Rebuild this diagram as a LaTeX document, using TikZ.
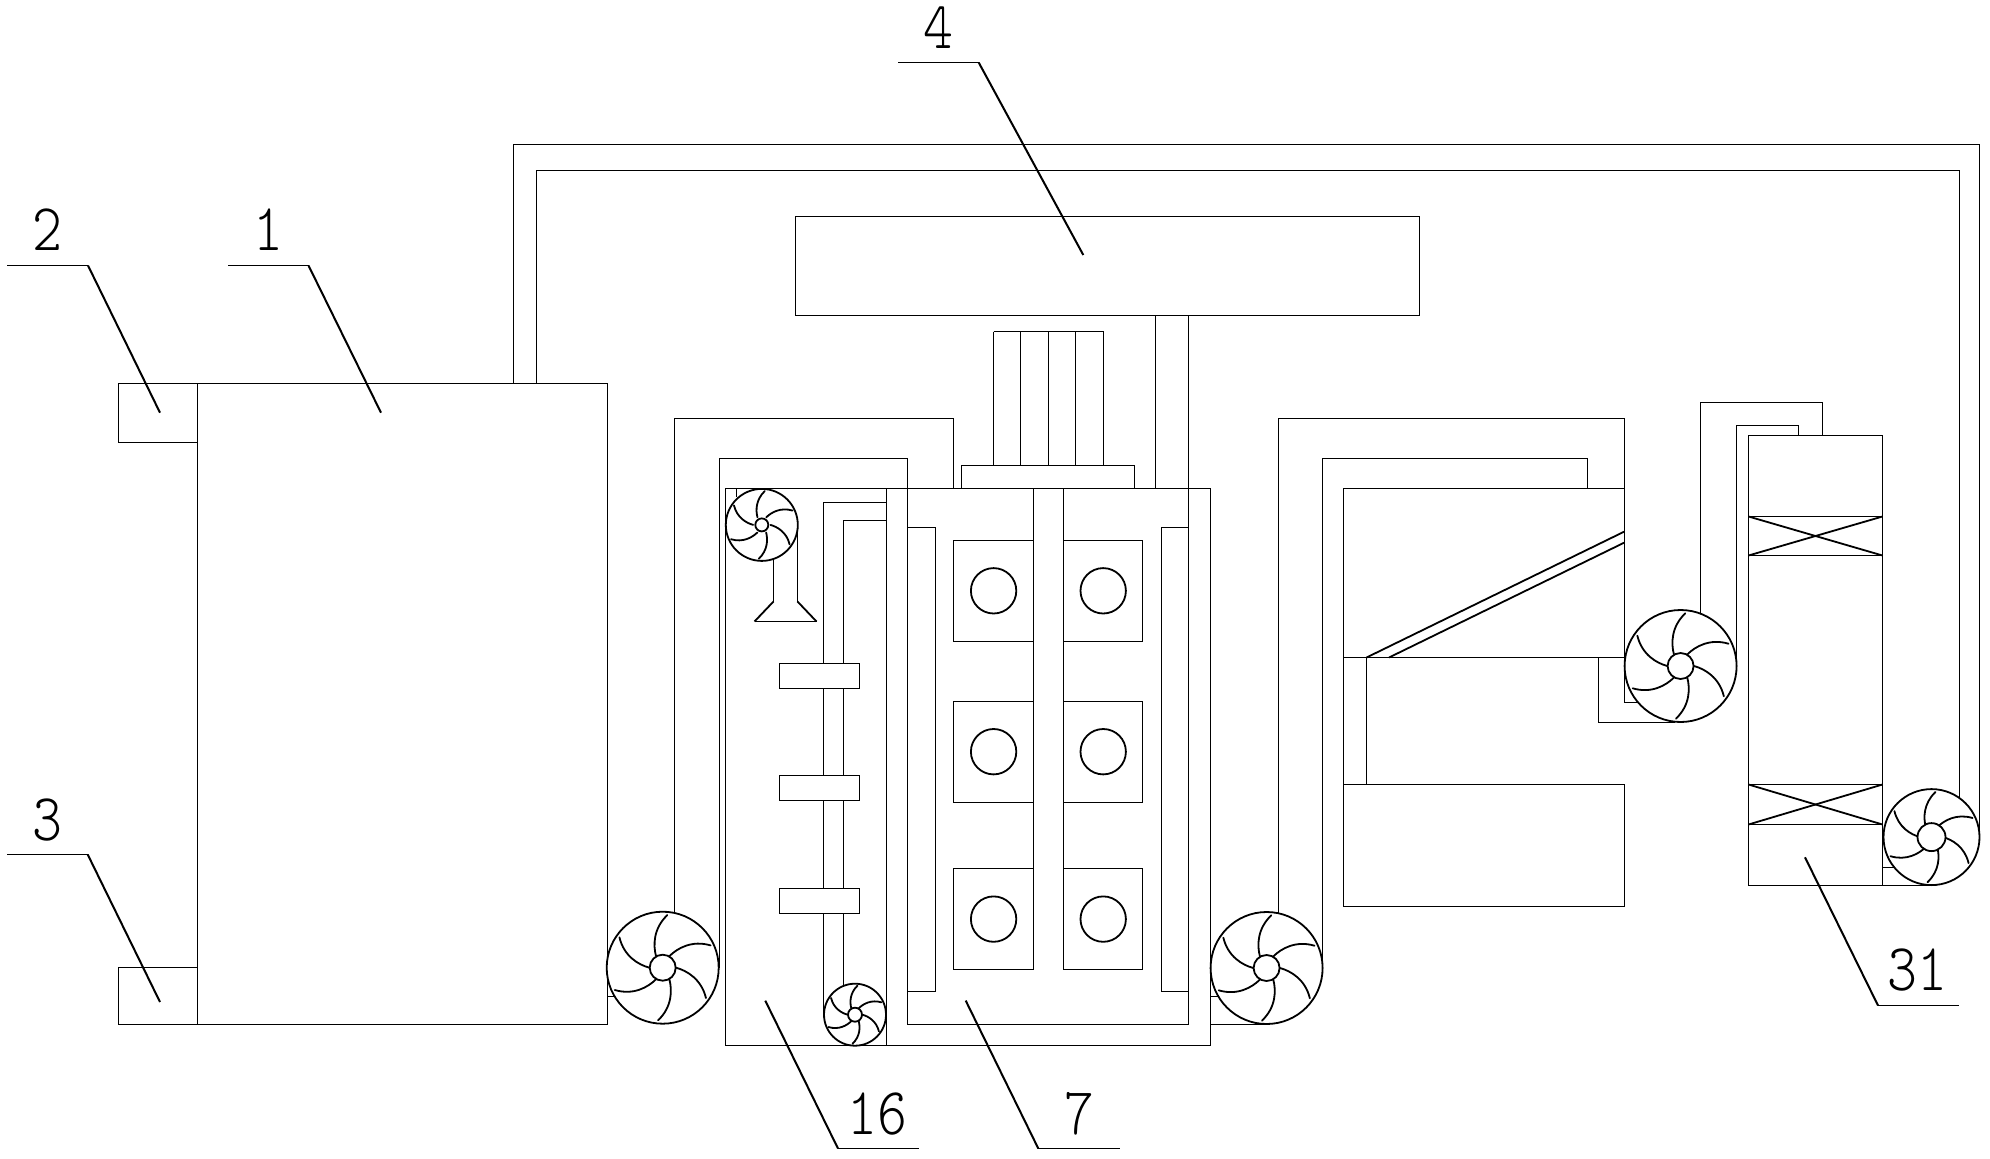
\documentclass[tikz,border=0pt]{standalone}
\usepackage{fontspec}
\newfontfamily\lblfont{Latin Modern Mono Light}
\tikzset{
  line/.style={draw=black,line width=1.2pt,line join=miter},
  leader/.style={draw=black,line width=2pt},
  leadh/.style={draw=black,line width=1.2pt},
  fanline/.style={draw=black,line width=1.8pt},
  lbl/.style={inner sep=0pt,xscale=.85,font=\lblfont\fontsize{67}{67}\selectfont}
}
\newcommand{\fanwheel}[4]{% cx cy r hubr
  \begin{scope}[shift={(#1,#2)}]
    \path[fanline,fill=white] (0,0) circle[radius=#3];
    \foreach \a in {0,60,...,300}{
      \begin{scope}[rotate=\a,scale=#3]
        \path[fanline,line cap=round] (-0.12,-0.21) .. controls (-0.17,-0.40) and (-0.17,-0.70) .. (0.083,-0.94);
      \end{scope}
    }
    \path[fanline,fill=white] (0,0) circle[radius=#4];
  \end{scope}
}
\begin{document}
\begin{tikzpicture}[x=1pt,y=-1pt]
\useasboundingbox (0,0) rectangle (1990,1159);
% box 1, 2, 3
\draw[line] (197.5,383.5) rectangle (607.5,1024.5);
\draw[line] (197.5,383.5) -- (118.5,383.5) -- (118.5,442.5) -- (197.5,442.5);
\draw[line] (197.5,967.5) -- (118.5,967.5) -- (118.5,1024.5) -- (197.5,1024.5);
% long return pipe
\draw[line] (513.5,383.5) -- (513.5,144.5) -- (1979.5,144.5) -- (1979.5,837);
\draw[line] (536.5,383.5) -- (536.5,170.5) -- (1959.5,170.5) -- (1959.5,800);
% box 4
\draw[line] (795.5,216.5) rectangle (1419.5,315.5);
% container
\draw[line] (725.5,488.5) rectangle (1210.5,1045.5);
\draw[line] (886.5,488.5) -- (886.5,1045.5);
% pipes to fan 1
\draw[line] (674.5,970) -- (674.5,418.5) -- (953.5,418.5) -- (953.5,488.5);
\draw[line] (719.5,968) -- (719.5,458.5) -- (907.5,458.5) -- (907.5,1024.5) -- (1188.5,1024.5) -- (1188.5,315.5);
\draw[line] (1155.5,315.5) -- (1155.5,488.5);
\draw[line] (607.5,996.5) -- (625,996.5);
% motor top
\draw[line] (961.5,488.5) -- (961.5,465.5) -- (1134.5,465.5) -- (1134.5,488.5);
\draw[line] (993.5,331.5) -- (1103.5,331.5);
\foreach \x in {993.5,1020.5,1048.5,1075.5,1103.5}{\draw[line] (\x,331.5) -- (\x,465.5);}
% inner ducts
\draw[line] (907.5,527.5) -- (935.5,527.5) -- (935.5,991.5) -- (907.5,991.5);
\draw[line] (1188.5,527.5) -- (1161.5,527.5) -- (1161.5,991.5) -- (1188.5,991.5);
% centre column
\draw[line] (1033.5,488.5) -- (1033.5,969.5);
\draw[line] (1063.5,488.5) -- (1063.5,969.5);
% chambers and discs
\foreach \t/\b/\c in {540.5/641.5/590.8,701.5/802.5/751.7,868.5/969.5/919.1}{
  \draw[line] (1033.5,\t) -- (953.5,\t) -- (953.5,\b) -- (1033.5,\b);
  \draw[line] (1063.5,\t) -- (1142.5,\t) -- (1142.5,\b) -- (1063.5,\b);
  \draw[fanline] (993.6,\c) circle[radius=22.7];
  \draw[fanline] (1103.2,\c) circle[radius=22.7];
}
% left chamber
\draw[line] (736.5,488.5) -- (736.5,497);
\draw[line] (773.5,555) -- (773.5,601.5);
\draw[line] (797.5,525) -- (797.5,601.5);
\draw[fanline] (773.5,601.5) -- (754.5,621.5);
\draw[fanline] (797.5,601.5) -- (816.5,621.5);
\draw[line] (754.5,621.5) -- (816.5,621.5);
\draw[line] (886.5,502.5) -- (823.5,502.5) -- (823.5,1014);
\draw[line] (886.5,520.5) -- (843.5,520.5) -- (843.5,990);
\foreach \t/\b in {663.5/688.5,775.5/800.5,888.5/913.5}{
  \draw[line,fill=white] (779.5,\t) rectangle (859.5,\b);
}
% dryer block
\draw[line] (1624.5,702.5) -- (1624.5,488.5) -- (1343.5,488.5) -- (1343.5,906.5) -- (1624.5,906.5) -- (1624.5,784.5) -- (1343.5,784.5);
\draw[line] (1278.5,975) -- (1278.5,418.5) -- (1624.5,418.5) -- (1624.5,488.5);
\draw[line] (1322.5,968) -- (1322.5,458.5) -- (1587.5,458.5) -- (1587.5,488.5);
\draw[line] (1210.5,996.5) -- (1225,996.5);
\draw[line] (1210.5,1024.5) -- (1267,1024.5);
\draw[line] (1343.5,657.5) -- (1634,657.5);
\draw[line] (1366.5,657.5) -- (1366.5,784.5);
\draw[fanline] (1366.5,657.5) -- (1624.5,531.5);
\draw[fanline] (1389,657.5) -- (1624.5,542.5);
\draw[line] (1624.5,702.5) -- (1640,702.5);
\draw[line] (1598.5,657.5) -- (1598.5,722.5) -- (1675,722.5);
% tower
\draw[line] (1748.5,435.5) rectangle (1882.5,885.5);
\draw[line] (1700.5,620) -- (1700.5,402.5) -- (1822.5,402.5) -- (1822.5,435.5);
\draw[line] (1736.5,666) -- (1736.5,425.5) -- (1798.5,425.5) -- (1798.5,435.5);
\foreach \t/\b in {516.5/555.5,784.5/824.5}{
  \draw[line] (1748.5,\t) -- (1882.5,\t);
  \draw[line] (1748.5,\b) -- (1882.5,\b);
  \draw[fanline] (1748.5,\t) -- (1882.5,\b);
  \draw[fanline] (1748.5,\b) -- (1882.5,\t);
}
\draw[line] (1882.5,867.5) -- (1896,867.5);
\draw[line] (1882.5,885.5) -- (1931,885.5);
% fans
\fanwheel{662.7}{967.7}{56}{13}
\fanwheel{761.8}{524.9}{36}{6.5}
\fanwheel{855}{1014.7}{31}{7}
\fanwheel{1266.6}{968}{56}{13}
\fanwheel{1680.6}{666}{56}{13}
\fanwheel{1931.5}{837.1}{48}{14}
% leaders
\draw[leadh] (7,265.5) -- (88,265.5); \draw[leader] (88,265.5) -- (160,412.7);
\draw[leadh] (228,265.5) -- (308.5,265.5); \draw[leader] (308.5,265.5) -- (381,412.7);
\draw[leadh] (7,854.5) -- (87.7,854.5); \draw[leader] (87.7,854.5) -- (160,1002);
\draw[leadh] (898,62.5) -- (978.7,62.5); \draw[leader] (978.7,62.5) -- (1083.3,255);
\draw[leadh] (838,1148.5) -- (918.7,1148.5); \draw[leader] (838,1148.5) -- (765.3,1000.7);
\draw[leadh] (1038.3,1148.5) -- (1120,1148.5); \draw[leader] (1038.3,1148.5) -- (965.7,1000.6);
\draw[leadh] (1878,1005.5) -- (1958.7,1005.5); \draw[leader] (1878,1005.5) -- (1805,857.3);
% labels
\node[lbl] (n2) at (47,230) {2};
\node[lbl] (n1) at (268,230) {1};
\node[lbl] (n3) at (47.5,820) {3};
\node[lbl] (n4) at (938,28) {4};
\node[lbl] (n16) at (877.5,1114) {16};
\node[lbl] (n7) at (1079,1114) {7};
\node[lbl] (n31) at (1917.5,970.5) {31};
\end{tikzpicture}
\end{document}
